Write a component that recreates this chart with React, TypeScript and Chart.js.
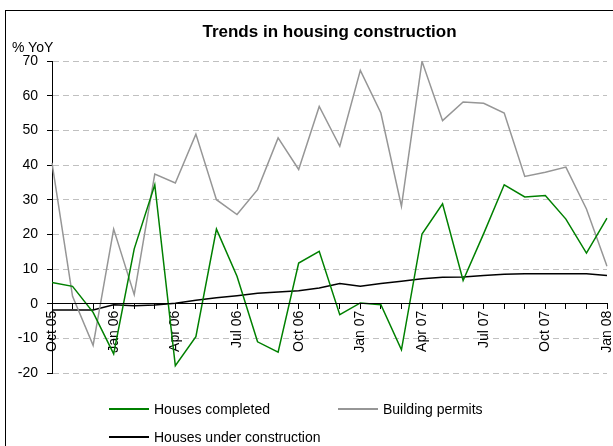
import React, { useEffect, useRef } from "react";
import { Chart, registerables } from "chart.js";

Chart.register(...registerables);

const months = [
  "Oct 05", "Nov 05", "Dec 05",
  "Jan 06", "Feb 06", "Mar 06", "Apr 06", "May 06", "Jun 06",
  "Jul 06", "Aug 06", "Sep 06", "Oct 06", "Nov 06", "Dec 06",
  "Jan 07", "Feb 07", "Mar 07", "Apr 07", "May 07", "Jun 07",
  "Jul 07", "Aug 07", "Sep 07", "Oct 07", "Nov 07", "Dec 07",
  "Jan 08",
];

const housesCompleted = [
  6.1, 5.0, -2.5, -14.5, 15.8, 34.3, -17.9, -9.5, 21.5, 7.9, -11.0, -14.0,
  11.7, 15.1, -3.2, 0.2, -0.3, -13.3, 20.1, 28.8, 6.7, 20.2, 34.3, 30.8,
  31.2, 24.4, 14.6, 24.7,
];

const buildingPermits = [
  40.6, 2.1, -12.0, 21.5, 2.6, 37.4, 34.8, 48.9, 30.0, 25.7, 32.9, 47.8,
  38.7, 56.9, 45.4, 67.3, 55.0, 28.1, 69.9, 52.8, 58.2, 57.8, 55.0, 36.7,
  37.9, 39.4, 27.3, 10.8,
];

const housesUnderConstruction = [
  -1.8, -1.8, -1.8, -0.3, -0.6, -0.4, 0.1, 1.0, 1.7, 2.3, 3.0, 3.4,
  3.7, 4.5, 5.8, 5.0, 5.8, 6.5, 7.2, 7.6, 7.7, 8.1, 8.5, 8.6,
  8.6, 8.6, 8.6, 8.1,
];

const seriesNames = ["Houses completed", "Building permits", "Houses under construction"];
const seriesColors = ["#008000", "#969696", "#000000"];

const yMin = -20;
const yMax = 70;
const yStep = 10;
const labelEvery = 3;

const FONT = "'Liberation Sans', Arial, Helvetica, sans-serif";

export default function App() {
  const canvasRef = useRef<HTMLCanvasElement | null>(null);

  useEffect(() => {
    const canvas = canvasRef.current;
    if (!canvas) return;
    Chart.defaults.font.family = FONT;
    Chart.defaults.color = "#000";
    const seriesData = [housesCompleted, buildingPermits, housesUnderConstruction];
    const chart = new Chart(canvas, {
      type: "line",
      data: {
        labels: months,
        datasets: seriesNames.map((name, i) => ({
          label: name,
          data: seriesData[i],
          borderColor: seriesColors[i],
          backgroundColor: seriesColors[i],
          borderWidth: 1.5,
          pointRadius: 0,
          tension: 0,
          fill: false,
        })),
      },
      options: {
        responsive: false,
        animation: false,
        devicePixelRatio: 1,
        layout: { padding: { top: 0, left: 0, right: 0, bottom: 73 } },
        plugins: {
          legend: { display: false },
          tooltip: { enabled: false },
          title: {
            display: true,
            text: "Trends in housing construction",
            fullSize: false,
            color: "#000",
            font: { size: 17, weight: "bold", family: FONT, lineHeight: 1.2 },
            padding: { top: 22, bottom: 18.6 },
          },
        },
        scales: {
          x: {
            type: "category",
            position: { y: 0 } as any,
            offset: false,
            grid: {
              drawOnChartArea: false,
              drawTicks: true,
              tickLength: 5,
              tickColor: "#000",
              color: "#000",
            },
            border: { display: true, color: "#000", width: 1, z: 1 },
            ticks: {
              autoSkip: false,
              maxRotation: 90,
              minRotation: 90,
              padding: 2,
              color: "#000",
              font: { size: 14, family: FONT },
              callback: (_v: any, i: number) => (i % labelEvery === 0 ? months[i] : ""),
            },
            afterFit: (s: any) => {
              s.height = 0;
              s.paddingLeft = 0;
              s.paddingRight = 6;
            },
          },
          y: {
            min: yMin,
            max: yMax,
            grid: {
              color: "#c0c0c0",
              lineWidth: 1,
              tickLength: 5,
              tickColor: "#000",
              drawTicks: true,
            },
            border: { display: true, color: "#000", width: 1, dash: [6, 4] },
            ticks: {
              stepSize: yStep,
              padding: 9,
              color: "#000",
              font: { size: 14, family: FONT },
            },
            afterFit: (s: any) => {
              s.width = 52;
            },
          },
        },
      },
    });
    return () => chart.destroy();
  }, []);

  const legendRows = [
    { idx: 0, left: 109, top: 409 },
    { idx: 1, left: 338, top: 409 },
    { idx: 2, left: 109, top: 437 },
  ];

  return (
    <div
      style={{
        position: "fixed",
        left: 0,
        top: 0,
        width: 613,
        height: 446,
        overflow: "hidden",
        background: "#fff",
        fontFamily: FONT,
      }}
    >
      <div
        style={{
          position: "absolute",
          left: 5,
          top: 10,
          width: 700,
          height: 500,
          borderTop: "1px solid #000",
          borderLeft: "1px solid #000",
        }}
      />
      <canvas
        ref={canvasRef}
        width={613}
        height={446}
        style={{ position: "absolute", left: 0, top: 0, width: 613, height: 446 }}
      />
      <div
        style={{
          position: "absolute",
          left: 12,
          top: 39,
          fontSize: 14,
          lineHeight: "16px",
          color: "#000",
          whiteSpace: "nowrap",
        }}
      >
        % YoY
      </div>
      {legendRows.map((r) => (
        <div
          key={r.idx}
          style={{
            position: "absolute",
            left: r.left,
            top: r.top - 8,
            height: 16,
            display: "flex",
            alignItems: "center",
            whiteSpace: "nowrap",
          }}
        >
          <div style={{ width: 40, height: 1.5, background: seriesColors[r.idx], marginRight: 5 }} />
          <span style={{ fontSize: 14, lineHeight: "16px", color: "#000" }}>{seriesNames[r.idx]}</span>
        </div>
      ))}
    </div>
  );
}
